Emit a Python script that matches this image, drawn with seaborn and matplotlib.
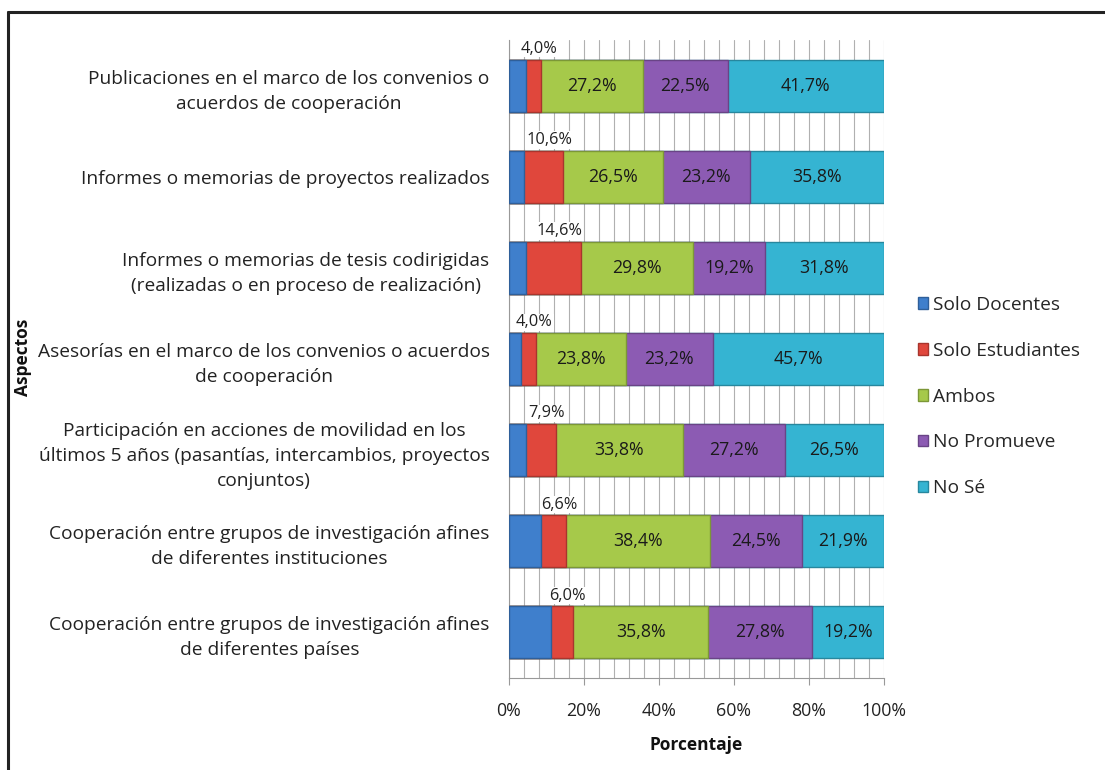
import numpy as np
import pandas as pd
import matplotlib
matplotlib.use("Agg")
import matplotlib.pyplot as plt
import seaborn as sns

aspectos = [
    "Publicaciones en el marco de los convenios o\nacuerdos de cooperación",
    "Informes o memorias de proyectos realizados",
    "Informes o memorias de tesis codirigidas\n(realizadas o en proceso de realización)",
    "Asesorías en el marco de los convenios o acuerdos\nde cooperación",
    "Participación en acciones de movilidad en los\núltimos 5 años (pasantías, intercambios, proyectos\nconjuntos)",
    "Cooperación entre grupos de investigación afines\nde diferentes instituciones",
    "Cooperación entre grupos de investigación afines\nde diferentes países",
]
series = ["Solo Docentes", "Solo Estudiantes", "Ambos", "No Promueve", "No Sé"]
solo_docentes = [4.6, 3.9, 4.6, 3.3, 4.6, 8.6, 11.2]
solo_estudiantes = [4.0, 10.6, 14.6, 4.0, 7.9, 6.6, 6.0]
ambos = [27.2, 26.5, 29.8, 23.8, 33.8, 38.4, 35.8]
no_promueve = [22.5, 23.2, 19.2, 23.2, 27.2, 24.5, 27.8]
no_se = [41.7, 35.8, 31.8, 45.7, 26.5, 21.9, 19.2]
colors = ["#3f7fcc", "#e0473c", "#a6c94a", "#8c5bb3", "#35b4d2"]
edges = ["#2f5f99", "#a8352d", "#7c9737", "#694486", "#27879e"]

sns.set_theme(style="white")
plt.rcParams["font.family"] = ["Open Sans", "DejaVu Sans"]

df = pd.DataFrame(
    {"Aspecto": aspectos, "Solo Docentes": solo_docentes,
     "Solo Estudiantes": solo_estudiantes, "Ambos": ambos,
     "No Promueve": no_promueve, "No Sé": no_se}
)
cum = df[series].cumsum(axis=1)

fig = plt.figure(figsize=(11.05, 7.7), dpi=100)
ax = fig.add_axes([0.4606, 0.1195, 0.3394, 0.8286])

# stacked bars: draw the cumulative totals from the outermost series inward
for i in range(len(series) - 1, -1, -1):
    sns.barplot(x=cum[series[i]], y=df["Aspecto"], orient="h", color=colors[i],
                width=0.57, edgecolor=edges[i], linewidth=1.0, ax=ax,
                saturation=1, zorder=3)

ax.set_xlim(0, 100)
ax.set_ylim(len(aspectos) - 0.5, -0.5)
ax.set_xticks(np.arange(0, 101, 20))
ax.set_xticklabels([f"{v}%" for v in range(0, 101, 20)], fontsize=12.8, color="#222222")
ax.set_xticks(np.arange(0, 101, 4), minor=True)
ax.tick_params(axis="x", which="major", length=5, width=0.8, color="#999999",
               direction="out", bottom=True, pad=12)
ax.tick_params(axis="x", which="minor", length=0)
ax.grid(axis="x", which="both", color="#b0b0b0", linewidth=0.8, zorder=0)
ax.set_axisbelow(True)
ax.tick_params(axis="y", length=0, pad=14, labelsize=13.8, labelcolor="#222222")
for lbl in ax.get_yticklabels():
    lbl.set_multialignment("center")
    lbl.set_linespacing(1.5)
for s in ["top", "right"]:
    ax.spines[s].set_visible(False)
for s in ["left", "bottom"]:
    ax.spines[s].set_color("#999999")
    ax.spines[s].set_linewidth(0.8)

ax.set_xlabel("Porcentaje", fontsize=12.5, fontweight="bold", labelpad=12, color="#111111")
ax.set_ylabel("")
fig.text(0.021, 0.536, "Aspectos", rotation=90, fontsize=12.5, fontweight="bold",
         ha="center", va="center", color="#111111")

# value labels: inside bars for the three outer series, above the bar for Solo Estudiantes
for r in range(len(aspectos)):
    for i in range(2, 5):
        val = df[series[i]][r]
        center = cum[series[i]][r] - val / 2
        ax.text(center, r, f"{val:.1f}%".replace(".", ","), ha="center", va="center",
                fontsize=12.8, color="#1a1a1a", zorder=5)
    val = solo_estudiantes[r]
    center = cum["Solo Estudiantes"][r] - val / 2
    ax.text(center + 1.5, r - 0.285 - 0.03, f"{val:.1f}%".replace(".", ","), ha="center",
            va="bottom", fontsize=11.8, color="#222222", zorder=5,
            bbox=dict(facecolor="white", edgecolor="none", pad=0.5))

handles = [plt.Rectangle((0, 0), 1, 1, facecolor=colors[i], edgecolor=edges[i])
           for i in range(len(series))]
fig.legend(handles, series, loc="center left", bbox_to_anchor=(0.815, 0.485),
           frameon=False, fontsize=13.8, handlelength=0.55, handleheight=0.55,
           handletextpad=0.25, labelspacing=1.45)

# chart-area frame on the top and left edges
fig.add_artist(plt.Line2D([0.0072, 1.0], [0.984, 0.984], color="#222222", linewidth=2.2,
                          transform=fig.transFigure))
fig.add_artist(plt.Line2D([0.0072, 0.0072], [0.0, 0.984], color="#222222", linewidth=2.2,
                          transform=fig.transFigure))

fig.savefig("out.png", dpi=100, facecolor="white")
